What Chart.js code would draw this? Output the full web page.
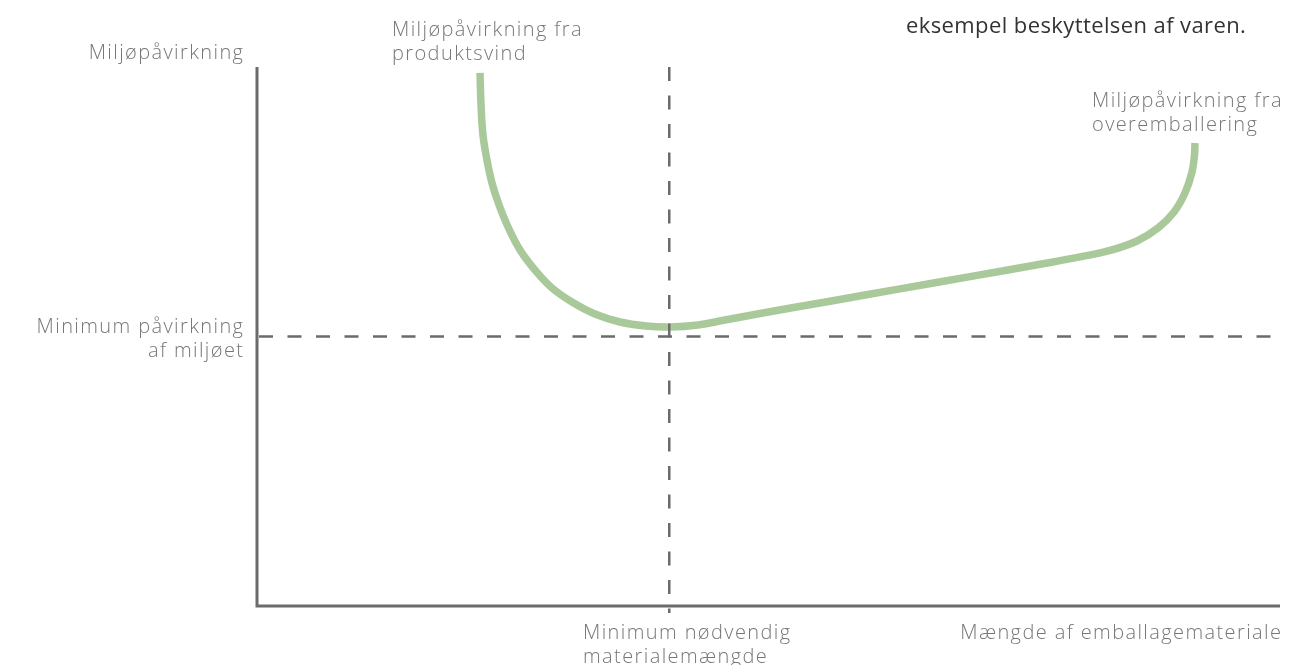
<!DOCTYPE html>
<html>
<head>
<meta charset="utf-8">
<script src="https://cdn.jsdelivr.net/npm/chart.js@4.4.0/dist/chart.umd.min.js"></script>
<style>
  html, body { margin: 0; padding: 0; background: #fff; }
  #wrap { width: 1291px; height: 665px; position: relative; }
</style>
</head>
<body>
<div id="wrap"><canvas id="chart"></canvas></div>
<script>
// Curve (x: material amount, y: environmental impact, 0-100 units)
const curveX = [21.80, 21.90, 22.09, 22.48, 22.97, 23.66, 24.54, 25.71, 27.17, 28.84, 30.79, 33.04, 35.48, 38.03, 40.37, 43.11, 45.75, 49.17, 56.01, 62.85, 69.70, 76.54, 80.45, 83.38, 86.02, 88.07, 89.64, 90.71, 91.40, 91.64, 91.69];
const curveY = [98.89, 92.95, 87.38, 82.75, 78.48, 74.40, 70.32, 66.05, 62.34, 59.00, 56.40, 54.17, 52.69, 51.95, 51.76, 52.13, 53.06, 54.27, 56.55, 58.83, 61.11, 63.40, 64.76, 65.96, 67.72, 70.13, 73.10, 76.62, 80.52, 83.67, 85.90];

// Reference lines
const optimumX = 40.3;
const optimumY = 50;

// Texts
const yAxisTitle = ['Miljøpåvirkning'];
const xAxisTitle = ['Mængde af emballagemateriale'];
const optimumYLabel = ['Minimum påvirkning', 'af miljøet'];
const optimumXLabel = ['Minimum nødvendig', 'materialemængde'];
const leftCurveLabel = ['Miljøpåvirkning fra', 'produktsvind'];
const rightCurveLabel = ['Miljøpåvirkning fra', 'overemballering'];
const noteText = ['eksempel beskyttelsen af varen.'];

const GREEN = 'rgb(169, 201, 154)';
const AXIS = '#6b6b6b';
const TEXT = '#777777';

function drawLines(ctx, lines, x, y, align, font, color, spacing) {
  ctx.save();
  ctx.font = font;
  ctx.fillStyle = color;
  ctx.letterSpacing = spacing + 'px';
  ctx.textAlign = align;
  ctx.textBaseline = 'middle';
  // with letter spacing the trailing gap pushes right-aligned text left
  const dx = align === 'right' ? spacing : 0;
  lines.forEach((t, i) => ctx.fillText(t, x + dx, y + i * 24));
  ctx.restore();
}

const decorations = {
  id: 'decorations',
  afterDatasetsDraw(chart) {
    const { ctx, chartArea: a, scales } = chart;
    const vx = scales.x.getPixelForValue(optimumX);
    const hy = scales.y.getPixelForValue(optimumY);

    // dashed guides
    ctx.save();
    ctx.strokeStyle = AXIS;
    ctx.lineWidth = 2.5;
    ctx.setLineDash([14, 14.5]);
    ctx.beginPath();
    ctx.moveTo(a.left + 2, hy);
    ctx.lineTo(a.right, hy);
    ctx.stroke();
    ctx.beginPath();
    ctx.moveTo(vx, a.top);
    ctx.lineTo(vx, a.bottom + 7);
    ctx.stroke();
    ctx.restore();

    // axes
    ctx.save();
    ctx.strokeStyle = AXIS;
    ctx.lineWidth = 3;
    ctx.beginPath();
    ctx.moveTo(a.left, a.top);
    ctx.lineTo(a.left, a.bottom);
    ctx.lineTo(a.right, a.bottom);
    ctx.stroke();
    ctx.restore();

    const f = '300 20px "Open Sans", sans-serif';
    drawLines(ctx, yAxisTitle, 243, 53, 'right', f, TEXT, 1.4);
    drawLines(ctx, leftCurveLabel, 392, 30, 'left', f, TEXT, 1.4);
    drawLines(ctx, optimumYLabel, 243, 327, 'right', f, TEXT, 1.4);
    drawLines(ctx, optimumXLabel, 583, 633, 'left', f, TEXT, 1.4);
    drawLines(ctx, xAxisTitle, 1281, 633, 'right', f, TEXT, 1.4);
    drawLines(ctx, rightCurveLabel, 1092, 101, 'left', f, TEXT, 1.4);
    drawLines(ctx, noteText, 906, 27, 'left', '22px "Open Sans", sans-serif', '#333333', 0.4);
  }
};

new Chart(document.getElementById('chart'), {
  type: 'line',
  data: {
    datasets: [{
      data: curveX.map((x, i) => ({ x, y: curveY[i] })),
      borderColor: GREEN,
      borderWidth: 7.5,
      pointRadius: 0,
      fill: false,
      tension: 0.4
    }]
  },
  options: {
    responsive: true,
    maintainAspectRatio: false,
    animation: false,
    layout: { padding: { left: 257, right: 11, top: 67, bottom: 59 } },
    plugins: { legend: { display: false }, tooltip: { enabled: false } },
    scales: {
      x: { type: 'linear', min: 0, max: 100, display: false },
      y: { type: 'linear', min: 0, max: 100, display: false }
    }
  },
  plugins: [decorations]
});
</script>
</body>
</html>
